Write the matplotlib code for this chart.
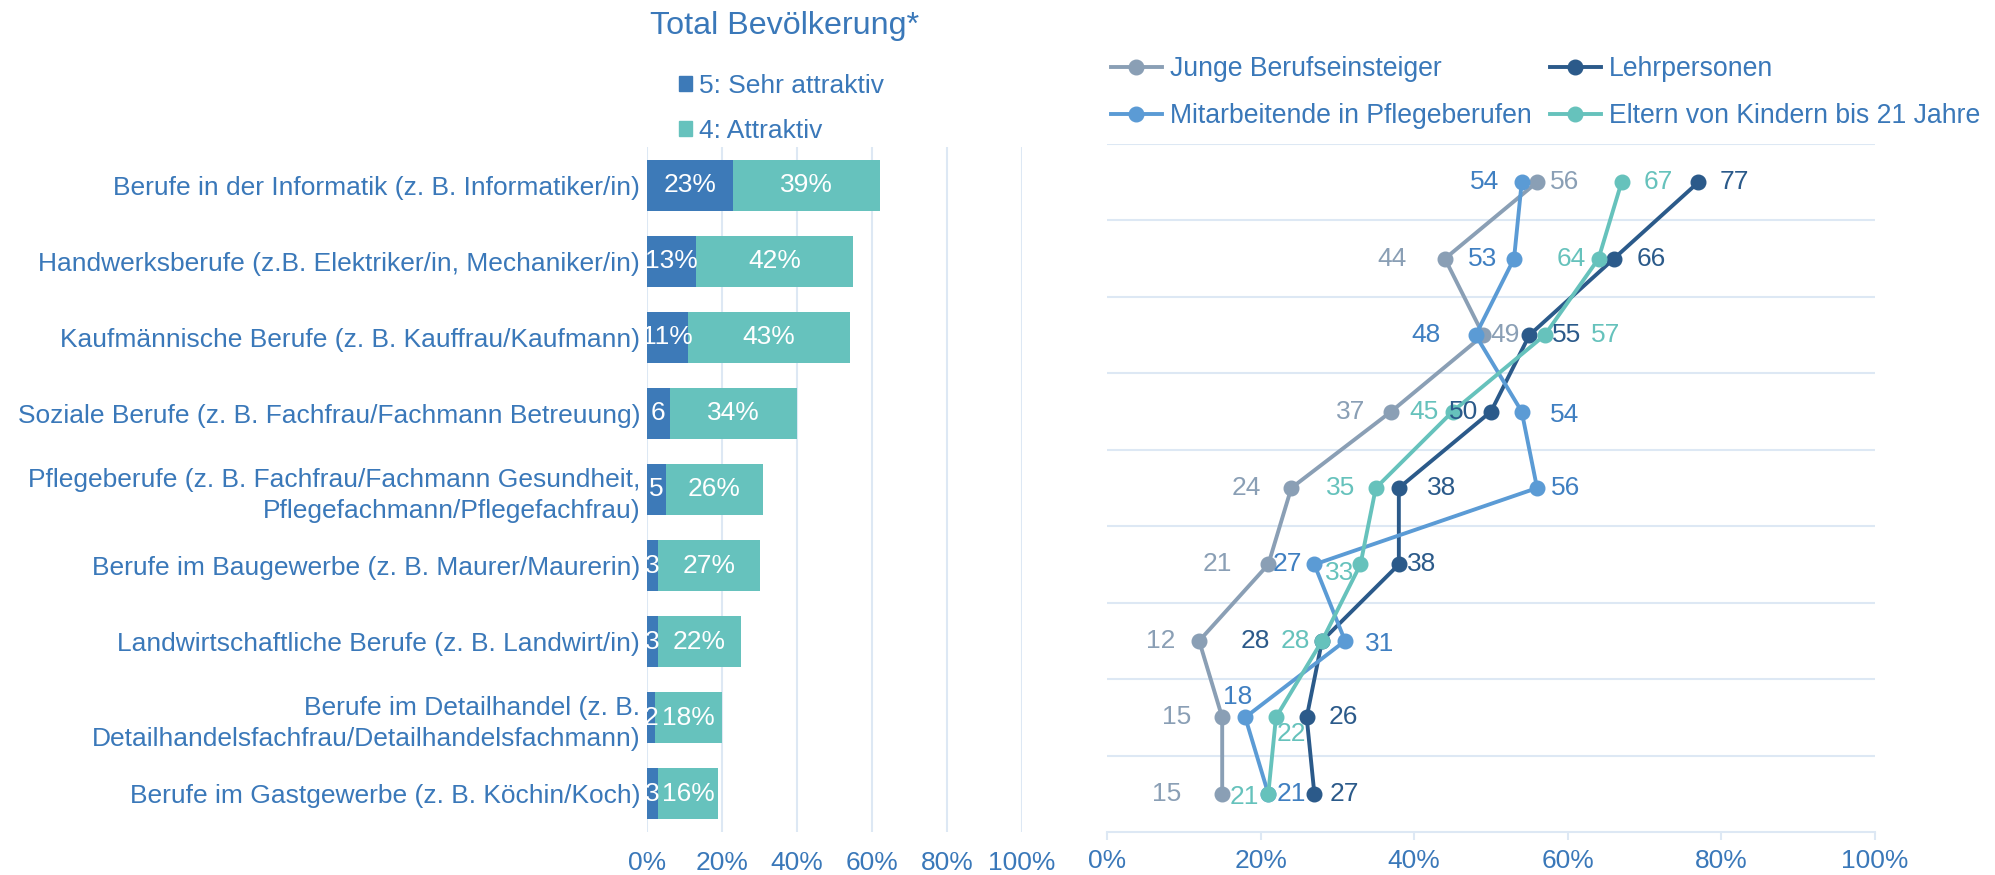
import matplotlib.pyplot as plt
from matplotlib.lines import Line2D
from matplotlib.patches import Patch
import numpy as np

plt.rcParams['font.family'] = ['Liberation Sans', 'DejaVu Sans']

# data (percent)
categories = [
    "Berufe in der Informatik (z. B. Informatiker/in)",
    "Handwerksberufe (z.B. Elektriker/in, Mechaniker/in)",
    "Kaufmännische Berufe (z. B. Kauffrau/Kaufmann)",
    "Soziale Berufe (z. B. Fachfrau/Fachmann Betreuung)",
    "Pflegeberufe (z. B. Fachfrau/Fachmann Gesundheit,\nPflegefachmann/Pflegefachfrau)",
    "Berufe im Baugewerbe (z. B. Maurer/Maurerin)",
    "Landwirtschaftliche Berufe (z. B. Landwirt/in)",
    "Berufe im Detailhandel (z. B.\nDetailhandelsfachfrau/Detailhandelsfachmann)",
    "Berufe im Gastgewerbe (z. B. Köchin/Koch)",
]
sehr_attraktiv = [23, 13, 11, 6, 5, 3, 3, 2, 3]
attraktiv = [39, 42, 43, 34, 26, 27, 22, 18, 16]

junge = [56, 44, 49, 37, 24, 21, 12, 15, 15]
lehrpersonen = [77, 66, 55, 50, 38, 38, 28, 26, 27]
pflege = [54, 53, 48, 54, 56, 27, 31, 18, 21]
eltern = [67, 64, 57, 45, 35, 33, 28, 22, 21]

xticks = [0, 20, 40, 60, 80, 100]
xticklabels = ["0%", "20%", "40%", "60%", "80%", "100%"]

# colours
BLUE_TXT = "#3A78B9"
DARK = "#3D7AB8"
TEAL = "#66C2BD"
GRID = "#DDE8F4"
C_JUNGE = "#8A9FB5"
C_LEHR = "#2B5A8A"
C_PFLEGE = "#5B9BD5"
C_PFLEGE_TXT = "#3F7FC1"
C_ELTERN = "#66C2BC"
FS = 19

# label offsets in pixels (dx, dy downwards) for the line chart
off_junge = [(27, 0), (-53, 0), (22, 0), (-40, 0), (-45, 0), (-51, 0), (-38, 0), (-46, 0), (-56, 0)]
off_lehr = [(36, 0), (37, 0), (37, 0), (-27, 0), (43, 0), (23, 0), (-67, 0), (37, 0), (30, 0)]
off_pflege = [(-37, 0), (-31, 0), (-50, 0), (43, 3), (28, 0), (-27, 0), (35, 3), (-8, -20), (23, 0)]
off_eltern = [(37, 0), (-27, 0), (61, 0), (-29, 0), (-35, 0), (-21, 9), (-27, 0), (15, 17), (-24, 3)]

fig = plt.figure(figsize=(19.95, 8.75), dpi=100)
ax0 = fig.add_axes([647 / 1995, 1 - 832 / 875, 375 / 1995, 685 / 875])
ax1 = fig.add_axes([1107 / 1995, 1 - 832 / 875, 768 / 1995, 688 / 875])

n = len(categories)
y = np.arange(n)
s = np.array(sehr_attraktiv) / 100
a = np.array(attraktiv) / 100

'''
left: stacked bars
'''
ax0.barh(y, s, height=0.67, color=DARK, zorder=2)
ax0.barh(y, a, left=s, height=0.67, color=TEAL, zorder=2)
for i in range(n):
    lab = "{}%".format(sehr_attraktiv[i]) if sehr_attraktiv[i] >= 10 else str(sehr_attraktiv[i])
    ax0.text(s[i] / 2, i, lab, ha="center", va="center", color="white", fontsize=FS, zorder=3)
    ax0.text(s[i] + a[i] / 2, i, "{}%".format(attraktiv[i]), ha="center", va="center",
             color="white", fontsize=FS, zorder=3)

ax0.set_ylim(n - 0.5, -0.5)
ax0.set_xlim(0, 1)
ax0.set_yticks(y)
ax0.set_yticklabels(categories, fontsize=FS, color=BLUE_TXT)
for t in ax0.get_yticklabels():
    t.set_linespacing(1.35)
ax0.set_xticks(np.array(xticks) / 100)
ax0.set_xticklabels(xticklabels, fontsize=FS, color=BLUE_TXT)
ax0.tick_params(axis="both", length=0)
ax0.tick_params(axis="x", pad=14)
ax0.tick_params(axis="y", pad=5)
ax0.grid(axis="x", color=GRID, linewidth=1.5, zorder=0)
ax0.set_axisbelow(True)
for sp in ax0.spines.values():
    sp.set_visible(False)

'''
right: profile lines
'''
series = [
    ("Junge Berufseinsteiger", junge, C_JUNGE, C_JUNGE, off_junge),
    ("Lehrpersonen", lehrpersonen, C_LEHR, C_LEHR, off_lehr),
    ("Mitarbeitende in Pflegeberufen", pflege, C_PFLEGE, C_PFLEGE_TXT, off_pflege),
    ("Eltern von Kindern bis 21 Jahre", eltern, C_ELTERN, C_ELTERN, off_eltern),
]
handles = {}
for k, (name, vals, col, tcol, offs) in enumerate(series):
    v = np.array(vals) / 100
    ax1.plot(v, y, "-o", color=col, lw=2.8, ms=10.5, zorder=3 + k)
    handles[name] = Line2D([0], [0], color=col, lw=2.8, marker="o", ms=10.5, label=name)
    for i in range(n):
        dx, dy = offs[i]
        ax1.annotate(str(vals[i]), (v[i], i), xytext=(dx, -dy), textcoords="offset pixels",
                     ha="center", va="center", color=tcol, fontsize=FS, zorder=10)

ax1.set_xlim(0, 1)
ax1.set_ylim(n - 0.5, -0.5)
ax1.set_yticks(np.arange(-0.5, n - 0.5, 1))
ax1.set_yticklabels([])
ax1.tick_params(axis="y", length=0)
ax1.grid(axis="y", color=GRID, linewidth=1.5, zorder=0)
ax1.set_xticks(np.array(xticks) / 100)
ax1.set_xticklabels(xticklabels, fontsize=FS, color=BLUE_TXT)
ax1.tick_params(axis="x", length=6, width=1.5, color=GRID, pad=6)
for side in ["top", "right", "left"]:
    ax1.spines[side].set_visible(False)
ax1.spines["bottom"].set_color(GRID)
ax1.spines["bottom"].set_linewidth(1.5)

'''
title and legends
'''
fig.text(785 / 1995, 1 - 26 / 875, "Total Bevölkerung*", ha="center", va="center",
         fontsize=23.2, color=BLUE_TXT)

fig.legend(handles=[Patch(color=DARK, label="5: Sehr attraktiv"), Patch(color=TEAL, label="4: Attraktiv")],
           loc="upper left", bbox_to_anchor=(679 / 1995, 1 - 74 / 875), frameon=False,
           fontsize=FS, labelcolor=BLUE_TXT, handlelength=0.5, handleheight=0.5,
           handletextpad=0.25, labelspacing=0.8, borderpad=0, borderaxespad=0)

order = ["Junge Berufseinsteiger", "Mitarbeitende in Pflegeberufen", "Lehrpersonen",
         "Eltern von Kindern bis 21 Jahre"]
fig.legend(handles=[handles[o] for o in order], ncol=2, loc="upper left",
           bbox_to_anchor=(1111 / 1995, 1 - 56 / 875), frameon=False, fontsize=19.2,
           labelcolor=BLUE_TXT, handlelength=1.9, handletextpad=0.3, columnspacing=0.7,
           labelspacing=0.8, borderpad=0, borderaxespad=0)

fig.savefig("out.png", dpi=100)
